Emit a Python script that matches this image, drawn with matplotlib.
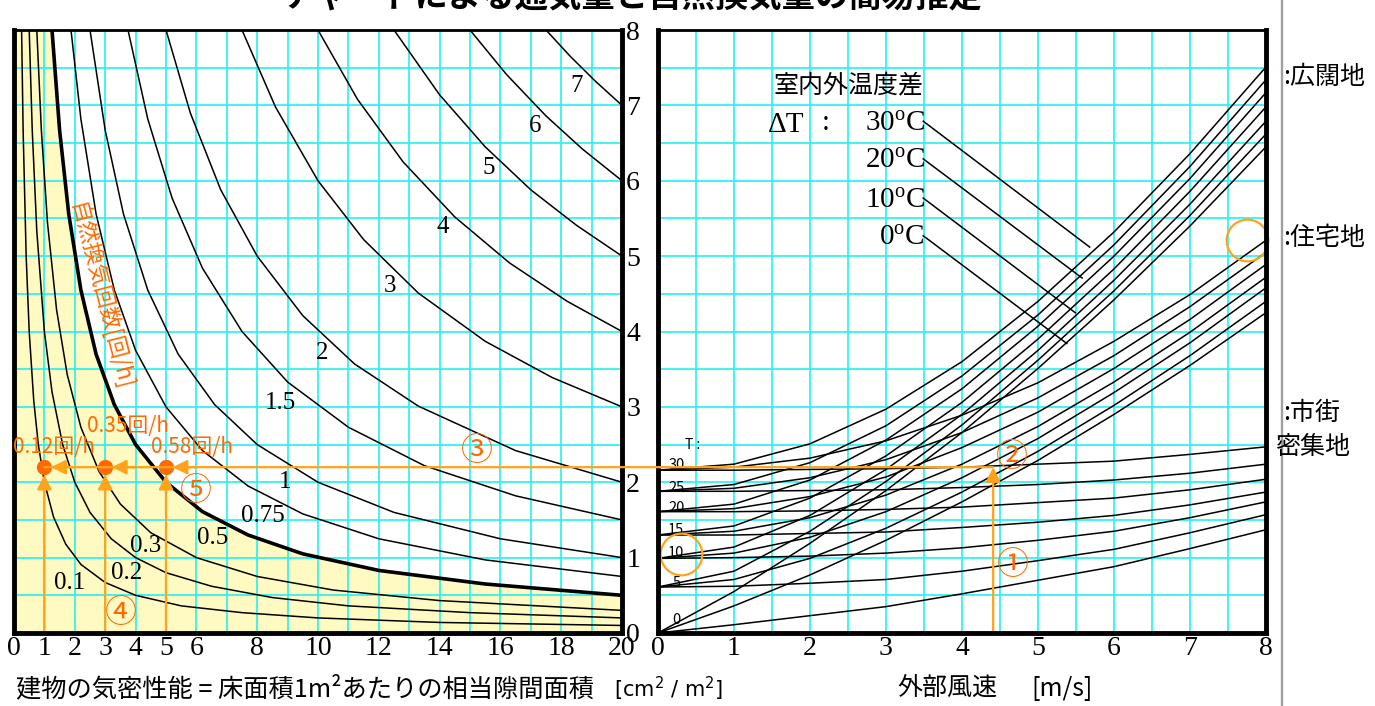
import numpy as np
import matplotlib.pyplot as plt
from matplotlib.patches import ConnectionPatch

plt.rcParams['font.family'] = ['Noto Sans CJK JP', 'DejaVu Sans']
plt.rcParams['mathtext.fontset'] = 'custom'
plt.rcParams['mathtext.rm'] = 'Liberation Serif'
plt.rcParams['mathtext.it'] = 'Liberation Serif'
SERIF = ['Liberation Serif', 'DejaVu Serif']

# ---- left panel: air change curves (gap area vs. flow)
n_labels = ['0.1', '0.2', '0.3', '0.5', '0.75', '1', '1.5', '2', '3', '4', '5', '6', '7']
left_x = [
    [0.25, 0.3, 0.4, 0.5, 0.65, 0.8, 1, 1.3, 1.7, 2.2, 3, 4, 5.5, 7.5, 10, 14, 20],
    [0.5, 0.6, 0.75, 1, 1.25, 1.6, 2, 2.5, 3.2, 4, 5, 6.5, 8.5, 11, 15, 20],
    [0.75, 0.9, 1.1, 1.4, 1.75, 2.2, 2.8, 3.5, 4.5, 6, 8, 10.5, 14, 20],
    [1.25, 1.5, 1.8, 2.2, 2.7, 3.3, 4, 5, 6.2, 7.7, 9.5, 12, 15.5, 20],
    [1.875, 2.2, 2.7, 3.3, 4, 5, 6.2, 7.7, 9.5, 12, 15.5, 20],
    [2.5, 3, 3.6, 4.4, 5.4, 6.6, 8, 10, 12.5, 16, 20],
    [3.75, 4.4, 5.2, 6.2, 7.5, 9, 11, 13.5, 16.5, 20],
    [5, 5.8, 6.8, 8, 9.5, 11.2, 13.3, 16.5, 20],
    [7.5, 8.6, 10, 11.5, 13.3, 15.5, 17.7, 20],
    [10, 11.3, 12.8, 14.5, 16.3, 18.2, 20],
    [12.5, 14, 15.5, 17, 18.5, 20],
    [15, 16.2, 17.5, 18.7, 20],
    [17.5, 18.3, 19.1, 20],
]
left_y = [
    [8, 6.67, 5, 4, 3.08, 2.5, 2, 1.54, 1.18, 0.91, 0.67, 0.5, 0.36, 0.27, 0.2, 0.14, 0.1],
    [8, 6.67, 5.33, 4, 3.2, 2.5, 2, 1.6, 1.25, 1, 0.8, 0.62, 0.47, 0.36, 0.27, 0.2],
    [8, 6.67, 5.45, 4.29, 3.43, 2.73, 2.14, 1.71, 1.33, 1, 0.75, 0.57, 0.43, 0.3],
    [8, 6.67, 5.56, 4.55, 3.7, 3.03, 2.5, 2, 1.61, 1.3, 1.05, 0.83, 0.65, 0.5],
    [8, 6.82, 5.56, 4.55, 3.75, 3, 2.42, 1.95, 1.58, 1.25, 0.97, 0.75],
    [8, 6.67, 5.56, 4.55, 3.7, 3.03, 2.5, 2, 1.6, 1.25, 1],
    [8, 6.82, 5.77, 4.84, 4, 3.33, 2.73, 2.22, 1.82, 1.5],
    [8, 6.9, 5.88, 5, 4.21, 3.57, 3.01, 2.42, 2],
    [8, 6.98, 6, 5.22, 4.51, 3.87, 3.39, 3],
    [8, 7.08, 6.25, 5.52, 4.91, 4.4, 4],
    [8, 7.14, 6.45, 5.88, 5.41, 5],
    [8, 7.41, 6.86, 6.42, 6],
    [8, 7.65, 7.33, 7],
]
label_xy = [(1.84, 0.66), (3.72, 0.79), (4.34, 1.15), (6.55, 1.26), (8.19, 1.55),
            (8.91, 2.0), (8.75, 3.05), (10.13, 3.72), (12.37, 4.61), (14.11, 5.39),
            (15.63, 6.17), (17.14, 6.73), (18.52, 7.26)]
left_xticks = [0, 1, 2, 3, 4, 5, 6, 8, 10, 12, 14, 16, 18, 20]

# ---- right panel: flow vs. wind speed, per terrain, for dT = 0..30 C
wind_v = [0, 1, 2, 3, 4, 5, 6, 7, 8]
dT_labels = ['0', '5', '10', '15', '20', '25', '30']
open_y = [  # 広闊地
    [0, 0.55, 1.19, 1.89, 2.66, 3.51, 4.42, 5.40, 6.45],
    [0.61, 0.82, 1.35, 2.01, 2.76, 3.62, 4.54, 5.54, 6.62],
    [0.99, 1.14, 1.56, 2.17, 2.90, 3.75, 4.68, 5.69, 6.79],
    [1.30, 1.42, 1.79, 2.35, 3.06, 3.90, 4.83, 5.86, 6.98],
    [1.61, 1.71, 2.03, 2.56, 3.24, 4.07, 5.00, 6.03, 7.17],
    [1.88, 1.97, 2.26, 2.75, 3.41, 4.22, 5.15, 6.19, 7.34],
    [2.16, 2.24, 2.51, 2.97, 3.60, 4.40, 5.32, 6.36, 7.51],
]
resid_y = [  # 住宅地
    [0, 0.36, 0.77, 1.23, 1.74, 2.29, 2.90, 3.55, 4.25],
    [0.61, 0.71, 0.99, 1.39, 1.87, 2.41, 3.02, 3.68, 4.40],
    [0.99, 1.06, 1.27, 1.61, 2.06, 2.58, 3.19, 3.85, 4.58],
    [1.30, 1.35, 1.53, 1.83, 2.24, 2.74, 3.33, 3.99, 4.72],
    [1.61, 1.65, 1.81, 2.07, 2.46, 2.93, 3.51, 4.16, 4.89],
    [1.88, 1.92, 2.06, 2.30, 2.66, 3.12, 3.68, 4.33, 5.05],
    [2.16, 2.20, 2.32, 2.55, 2.89, 3.32, 3.87, 4.49, 5.21],
]
dense_y = [  # 市街密集地
    [0, 0.11, 0.23, 0.35, 0.52, 0.70, 0.88, 1.12, 1.37],
    [0.61, 0.62, 0.66, 0.71, 0.82, 0.96, 1.11, 1.33, 1.57],
    [0.99, 1.00, 1.02, 1.06, 1.13, 1.23, 1.35, 1.53, 1.74],
    [1.30, 1.30, 1.32, 1.34, 1.40, 1.47, 1.56, 1.70, 1.87],
    [1.61, 1.61, 1.62, 1.64, 1.67, 1.73, 1.79, 1.90, 2.04],
    [1.88, 1.88, 1.89, 1.90, 1.93, 1.97, 2.03, 2.12, 2.24],
    [2.16, 2.16, 2.17, 2.18, 2.20, 2.24, 2.28, 2.37, 2.47],
]
dT_label_y = [0.17, 0.66, 1.06, 1.36, 1.66, 1.93, 2.23]

# legend leaders: dT 30/20/10/0 -> open-terrain curves
leader_names = ['30', '20', '10', '0']
leader_start_y = [6.79, 6.29, 5.77, 5.27]
leader_end = [(5.68, 5.12), (5.58, 4.71), (5.49, 4.25), (5.38, 3.84)]

# worked example
example_wind = 4.41
example_flow = 2.2
example_gaps = [1, 3, 5]
example_rates = ['0.12回/h', '0.35回/h', '0.58回/h']

ORANGE = '#FFA31A'
RED_OR = '#FF6A00'
GRID = '#22F2F2'
W, H = 1375, 706

fig = plt.figure(figsize=(13.75, 7.06), dpi=100)
axL = fig.add_axes([14 / W, 1 - 633 / H, 608 / W, 603 / H])
axR = fig.add_axes([658 / W, 1 - 633 / H, 608 / W, 603 / H])


def frame(ax):
    for s in ['left', 'bottom', 'right']:
        ax.spines[s].set_linewidth(3.5)
    ax.spines['top'].set_linewidth(2)
    for s in ax.spines.values():
        s.set_zorder(8)
    ax.tick_params(length=0)


# left panel
axL.set_xlim(0, 20)
axL.set_ylim(0, 8)
for gx in np.arange(1, 20, 1):
    axL.axvline(gx, color=GRID, lw=1.2, zorder=1)
for gy in np.arange(0.5, 8, 0.5):
    axL.axhline(gy, color=GRID, lw=1.2, zorder=1)

thick = n_labels.index('0.5')
fx = [0] + left_x[thick]
fy = [8] + left_y[thick]
axL.fill_between(fx, 0, fy, color='#FFF9C2', lw=0, zorder=0.5)

for i, (xs, ys) in enumerate(zip(left_x, left_y)):
    axL.plot(xs, ys, color='k', lw=2.6 if i == thick else 1.1, zorder=3)
    axL.text(label_xy[i][0], label_xy[i][1], n_labels[i], fontsize=18,
             family=SERIF, ha='center', va='center', zorder=4)

axL.text(2.85, 4.47, '自然換気回数[回/h]', rotation=-75.5, color=RED_OR,
         fontsize=16, ha='center', va='center', rotation_mode='anchor')

axL.set_xticks(left_xticks)
axL.set_xticklabels([str(t) for t in left_xticks], family=SERIF, fontsize=20)
axL.yaxis.tick_right()
axL.set_yticks(range(9))
axL.set_yticklabels([str(t) for t in range(9)], family=SERIF, fontsize=20)
frame(axL)
axL.tick_params(axis='x', pad=2)
axL.tick_params(axis='y', pad=3)

# right panel
axR.set_xlim(0, 8)
axR.set_ylim(0, 8)
for gx in np.arange(0.5, 8, 0.5):
    axR.axvline(gx, color=GRID, lw=1.2, zorder=1)
for gy in np.arange(0.5, 8, 0.5):
    axR.axhline(gy, color=GRID, lw=1.2, zorder=1)

for fam in (open_y, resid_y, dense_y):
    for row in fam:
        axR.plot(wind_v, row, color='k', lw=1.1, zorder=3)

axR.text(0.45, 2.49, 'T :', fontsize=10, ha='center', va='center')
for lab, yy in zip(dT_labels, dT_label_y):
    axR.text(0.24, yy, lab, fontsize=10.5, ha='center', va='center')

axR.text(2.51, 7.27, '室内外温度差', fontsize=18, ha='center', va='center')
axR.text(1.69, 6.74, 'ΔT', fontsize=21, family=SERIF, ha='center', va='center')
axR.text(2.21, 6.76, ':', fontsize=21, family=SERIF, ha='center', va='center')
for name, ys, (ex, ey) in zip(leader_names, leader_start_y, leader_end):
    axR.text(3.51, ys - 0.03, name + r'$^{\mathrm{o}}$C', fontsize=21, family=SERIF,
             ha='right', va='center')
    axR.plot([3.49, ex], [ys, ey], color='k', lw=1.1, zorder=3)

axR.set_xticks(range(9))
axR.set_xticklabels([str(t) for t in range(9)], family=SERIF, fontsize=20)
axR.set_yticks([])
frame(axR)
axR.tick_params(axis='x', pad=2)

# worked example (orange)
con = ConnectionPatch(xyA=(example_wind, example_flow), coordsA=axR.transData,
                      xyB=(example_gaps[0], example_flow), coordsB=axL.transData,
                      color=ORANGE, lw=1.6, zorder=6)
fig.add_artist(con)
arrow = dict(arrowstyle='-|>', color=ORANGE, lw=1.6, mutation_scale=22,
             shrinkA=0, shrinkB=0)
axR.annotate('', xy=(example_wind, example_flow), xytext=(example_wind, 0),
             arrowprops=arrow, zorder=6, annotation_clip=False)
for gx in example_gaps:
    axL.annotate('', xy=(gx, example_flow - 0.1), xytext=(gx, 0),
                 arrowprops=arrow, zorder=6, annotation_clip=False)
    axL.annotate('', xy=(gx + 0.22, example_flow), xytext=(gx + 1.0, example_flow),
                 arrowprops=arrow, zorder=6)
axL.plot(example_gaps, [example_flow] * 3, 'o', color=RED_OR, ms=10, zorder=7,
         clip_on=False)
rate_pos = [(1.3, 2.47), (3.75, 2.75), (5.85, 2.47)]
for (tx, ty), txt in zip(rate_pos, example_rates):
    axL.text(tx, ty, txt, color=RED_OR, fontsize=15, ha='center', va='center', zorder=9)

axR.plot(0.30, 1.05, 'o', ms=30, mfc='none', mec=ORANGE, mew=1.6, clip_on=False, zorder=7)
axR.plot(7.75, 5.22, 'o', ms=30, mfc='none', mec=ORANGE, mew=1.6, clip_on=False, zorder=7)

circ = dict(color=RED_OR, fontsize=23, ha='center', va='center')
axR.text(4.67, 0.90, '①', **circ)
axR.text(4.65, 2.34, '②', **circ)
axL.text(15.22, 2.42, '③', **circ)
axL.text(3.5, 0.27, '④', **circ)
axL.text(5.97, 1.89, '⑤', **circ)


def px(x, y):
    return x / W, 1 - y / H


# terrain labels and separator
fig.add_artist(plt.Line2D([1282 / W, 1282 / W], [0, 1], color='#A0A0A0', lw=1.7))
fig.text(*px(1283, 77), ':広闊地', fontsize=18, ha='left', va='center')
fig.text(*px(1283, 238), ':住宅地', fontsize=18, ha='left', va='center')
fig.text(*px(1283, 413), ':市街', fontsize=18, ha='left', va='center')
fig.text(*px(1275, 447), '密集地', fontsize=18, ha='left', va='center')

# axis titles
fig.text(*px(16, 689), '建物の気密性能 = 床面積1m²あたりの相当隙間面積',
         fontsize=18.2, ha='left', va='center')
fig.text(*px(614, 689), r'[cm$^2$ / m$^2$]', fontsize=15, ha='left', va='center',
         family='DejaVu Sans', math_fontfamily='dejavusans')
fig.text(*px(897, 689), '外部風速', fontsize=18, ha='left', va='center')
fig.text(*px(1031, 689), '[m/s]', fontsize=18, ha='left', va='center')

# title (cut at the top edge as in the source)
fig.text(*px(632, 7), 'チャートによる通気量と自然換気量の簡易推定', fontsize=24,
         fontweight='bold', ha='center', va='baseline')

fig.savefig('out.png', dpi=100)
